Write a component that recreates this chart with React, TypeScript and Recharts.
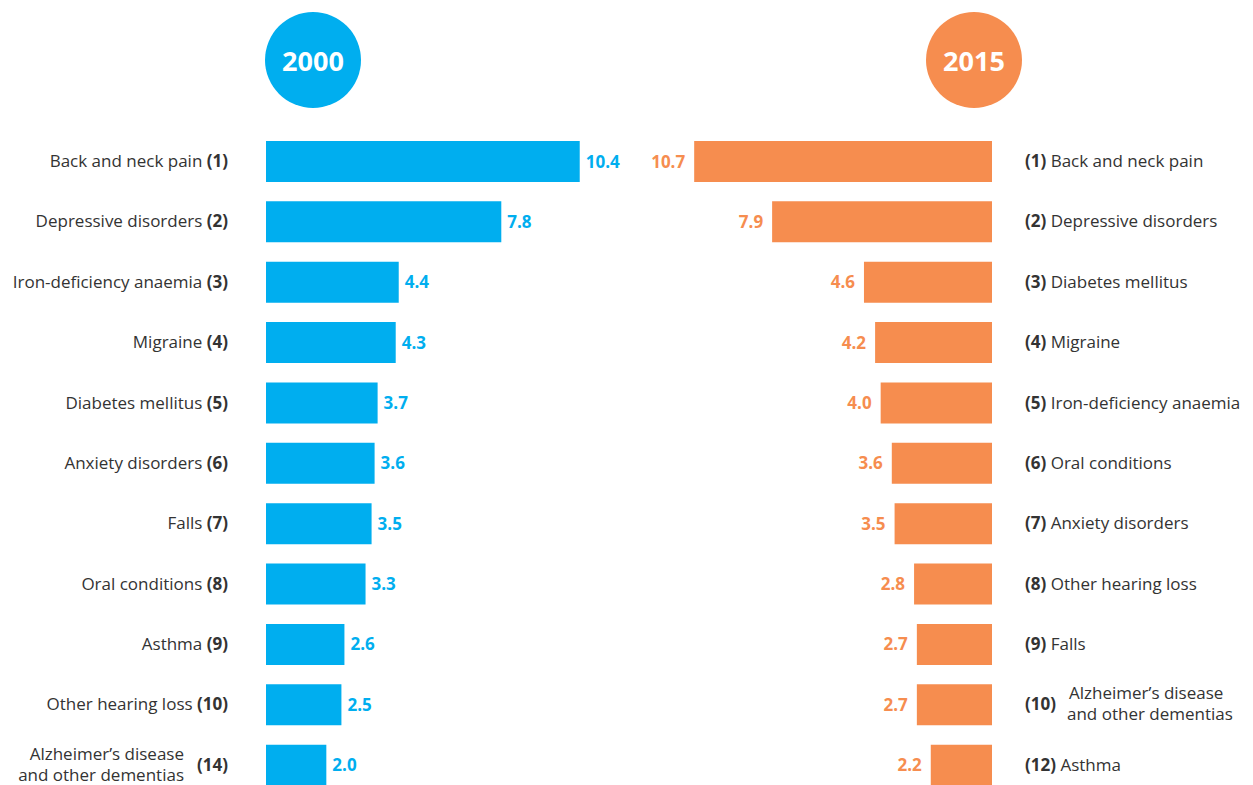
import { BarChart, Bar, XAxis, YAxis, LabelList } from 'recharts'

const leftCauses = [
  'Back and neck pain',
  'Depressive disorders',
  'Iron-deficiency anaemia',
  'Migraine',
  'Diabetes mellitus',
  'Anxiety disorders',
  'Falls',
  'Oral conditions',
  'Asthma',
  'Other hearing loss',
  'Alzheimer’s disease\nand other dementias',
]
const leftRanks = [1, 2, 3, 4, 5, 6, 7, 8, 9, 10, 14]
const leftValues = [10.4, 7.8, 4.4, 4.3, 3.7, 3.6, 3.5, 3.3, 2.6, 2.5, 2.0]

const rightCauses = [
  'Back and neck pain',
  'Depressive disorders',
  'Diabetes mellitus',
  'Migraine',
  'Iron-deficiency anaemia',
  'Oral conditions',
  'Anxiety disorders',
  'Other hearing loss',
  'Falls',
  'Alzheimer’s disease\nand other dementias',
  'Asthma',
]
const rightRanks = [1, 2, 3, 4, 5, 6, 7, 8, 9, 10, 12]
const rightValues = [10.7, 7.9, 4.6, 4.2, 4.0, 3.6, 3.5, 2.8, 2.7, 2.7, 2.2]

const BLUE = '#00aeef'
const ORANGE = '#f68d4f'
const TEXT = '#333333'
const FONT = '"Open Sans", "Noto Sans", sans-serif'
const FS = 17

const leftData = leftCauses.map((name, i) => ({ name, rank: leftRanks[i], value: leftValues[i] }))
const rightData = rightCauses.map((name, i) => ({ name, rank: rightRanks[i], value: rightValues[i] }))

// eslint-disable-next-line @typescript-eslint/no-explicit-any
function LeftTick({ x, y, payload }: any) {
  const d = leftData[payload.index]
  const lines = d.name.split('\n')
  const end = x - 38
  if (lines.length > 1) {
    return (
      <g fontFamily={FONT} fontSize={FS} fill={TEXT}>
        <text x={end} y={y} dy="0.35em" textAnchor="end" fontWeight="bold">({d.rank})</text>
        <text x={end - 44} y={y - 11} dy="0.35em" textAnchor="end">{lines[0]}</text>
        <text x={end - 44} y={y + 10} dy="0.35em" textAnchor="end">{lines[1]}</text>
      </g>
    )
  }
  return (
    <text x={end} y={y} dy="0.35em" textAnchor="end" fontFamily={FONT} fontSize={FS} fill={TEXT}>
      <tspan>{d.name} </tspan>
      <tspan fontWeight="bold">({d.rank})</tspan>
    </text>
  )
}

// eslint-disable-next-line @typescript-eslint/no-explicit-any
function RightTick({ x, y, payload }: any) {
  const d = rightData[payload.index]
  const lines = d.name.split('\n')
  const start = x + 33
  if (lines.length > 1) {
    return (
      <g fontFamily={FONT} fontSize={FS} fill={TEXT}>
        <text x={start} y={y} dy="0.35em" fontWeight="bold">({d.rank})</text>
        <text x={start + 44} y={y - 11} dy="0.35em">{lines[0]}</text>
        <text x={start + 42} y={y + 10} dy="0.35em">{lines[1]}</text>
      </g>
    )
  }
  return (
    <text x={start} y={y} dy="0.35em" fontFamily={FONT} fontSize={FS} fill={TEXT}>
      <tspan fontWeight="bold">({d.rank})</tspan>
      <tspan> {d.name}</tspan>
    </text>
  )
}

function YearBadge({ label, color, cx }: { label: string; color: string; cx: number }) {
  return (
    <div
      style={{
        position: 'absolute',
        left: cx - 48,
        top: 12,
        width: 96,
        height: 96,
        borderRadius: '50%',
        background: color,
        color: '#fff',
        fontFamily: FONT,
        fontWeight: 'bold',
        fontSize: 27,
        display: 'flex',
        alignItems: 'center',
        justifyContent: 'center',
      }}
    >
      {label}
    </div>
  )
}

export default function App() {
  const fmt = (v: number) => v.toFixed(1)
  return (
    <div
      style={{
        position: 'absolute',
        left: 0,
        top: 0,
        width: 1253,
        height: 785,
        overflow: 'hidden',
        background: '#fff',
      }}
    >
      <YearBadge label="2000" color={BLUE} cx={313} />
      <YearBadge label="2015" color={ORANGE} cx={974} />

      <div style={{ position: 'absolute', left: 0, top: 0 }}>
        <BarChart
          width={628}
          height={800}
          data={leftData}
          layout="vertical"
          margin={{ top: 131, right: 0, bottom: 5, left: 0 }}
        >
          <XAxis type="number" domain={[0, 12]} hide />
          <YAxis
            type="category"
            dataKey="name"
            width={266}
            axisLine={false}
            tickLine={false}
            tickSize={0}
            tickMargin={0}
            interval={0}
            tick={<LeftTick />}
          />
          <Bar dataKey="value" fill={BLUE} barSize={41} isAnimationActive={false}>
            <LabelList
              dataKey="value"
              position="right"
              offset={6}
              formatter={fmt}
              fill={BLUE}
              fontFamily={FONT}
              fontSize={FS}
              fontWeight="bold"
            />
          </Bar>
        </BarChart>
      </div>

      <div style={{ position: 'absolute', left: 640, top: 0 }}>
        <BarChart
          width={613}
          height={800}
          data={rightData}
          layout="vertical"
          margin={{ top: 131, right: 0, bottom: 5, left: 18 }}
        >
          <XAxis type="number" domain={[0, 12]} reversed hide />
          <YAxis
            type="category"
            dataKey="name"
            orientation="right"
            width={261}
            axisLine={false}
            tickLine={false}
            tickSize={0}
            tickMargin={0}
            interval={0}
            tick={<RightTick />}
          />
          <Bar dataKey="value" fill={ORANGE} barSize={41} isAnimationActive={false}>
            {/* bars grow leftward here, so "right" lands on the visual left */}
            <LabelList
              dataKey="value"
              position="right"
              offset={9}
              formatter={fmt}
              fill={ORANGE}
              fontFamily={FONT}
              fontSize={FS}
              fontWeight="bold"
            />
          </Bar>
        </BarChart>
      </div>
    </div>
  )
}
